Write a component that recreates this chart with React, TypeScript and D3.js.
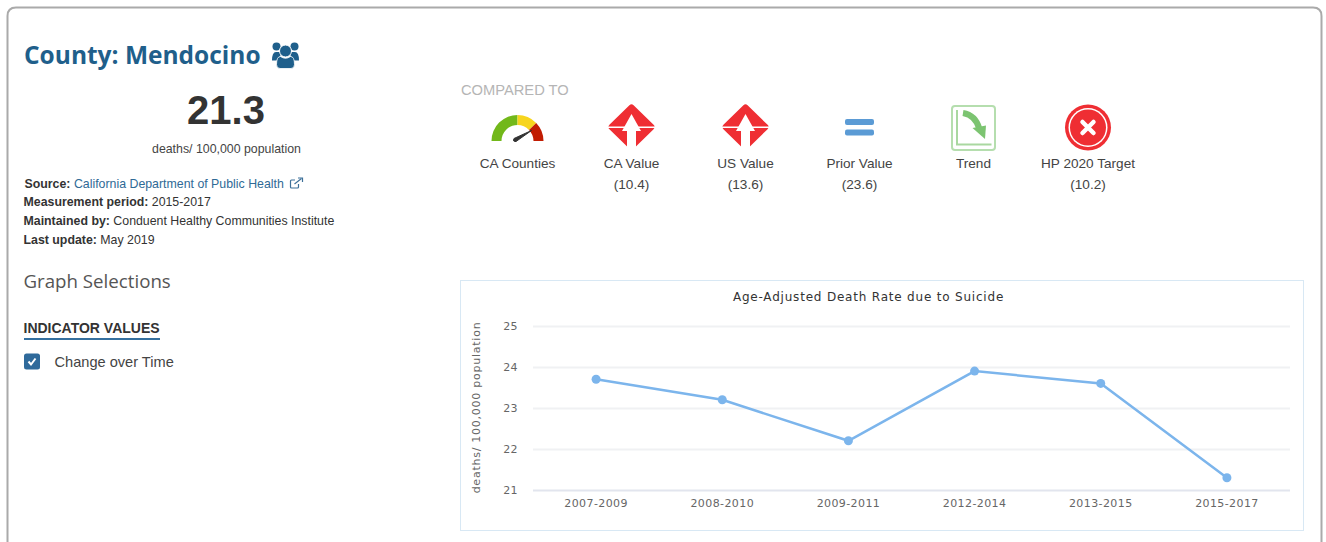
import React, { useEffect, useRef } from "react";
import * as d3 from "d3";

const periods = ["2007-2009", "2008-2010", "2009-2011", "2012-2014", "2013-2015", "2015-2017"];
const rates = [23.7, 23.2, 22.2, 23.9, 23.6, 21.3];
const yTicks = [21, 22, 23, 24, 25];

const comparisons = [
  { label: "CA Counties", value: "", x: 517.5 },
  { label: "CA Value", value: "(10.4)", x: 631.5 },
  { label: "US Value", value: "(13.6)", x: 745.5 },
  { label: "Prior Value", value: "(23.6)", x: 859.5 },
  { label: "Trend", value: "", x: 973.5 },
  { label: "HP 2020 Target", value: "(10.2)", x: 1088 },
];
const sourceLines = [
  { bold: "Measurement period:", text: " 2015-2017", y: 206 },
  { bold: "Maintained by:", text: " Conduent Healthy Communities Institute", y: 225 },
  { bold: "Last update:", text: " May 2019", y: 243.5 },
];
const gaugeSegments = [
  { from: -90, to: 0, color: "#72b81a" },
  { from: 0, to: 46, color: "#f7d51d" },
  { from: 46, to: 90, color: "#c11c02" },
];

const SANS = "'Liberation Sans', Arial, sans-serif";
const CHART_FONT = "'DejaVu Sans', sans-serif";
const BLUE = "#1f5f8b";

const x = d3.scaleBand().domain(periods).range([533, 1290]);
const y = d3.scaleLinear().domain([21, 25]).range([490, 326]);
const px = (d: string) => (x(d) as number) + x.bandwidth() / 2;

const line = d3
  .line<number>()
  .x((d, i) => px(periods[i]))
  .y((d) => y(d));

const Gauge = ({ cx }: { cx: number }) => {
  const arc = d3.arc();
  const rad = Math.PI / 180;
  return (
    <g transform={`translate(${cx},141)`}>
      {gaugeSegments.map((s) => (
        <path
          key={s.color}
          fill={s.color}
          d={
            arc({
              innerRadius: 16,
              outerRadius: 26,
              startAngle: s.from * rad,
              endAngle: s.to * rad,
            }) as string
          }
        />
      ))}
      <path d="M-3.5,-2.5 L14,-10.5 L-1.5,0.5 Q-5,1 -3.5,-2.5 Z" fill="#333" stroke="#333" strokeWidth={1} />
    </g>
  );
};

const Diamond = ({ cx }: { cx: number }) => (
  <g transform={`translate(${cx},127)`}>
    <path
      d="M0,-19.5 L20,0 L0,19.5 L-20,0 Z"
      fill="#ef2e33"
      stroke="#ef2e33"
      strokeWidth={6}
      strokeLinejoin="round"
    />
    <rect x={-24} y={-0.5} width={48} height={1.5} fill="#fff" />
    <path d="M0,-13 L9.5,4 L4.5,4 L4.5,24 L-4.5,24 L-4.5,4 L-9.5,4 Z" fill="#fff" />
  </g>
);

const Equal = ({ cx }: { cx: number }) => (
  <g transform={`translate(${cx},127)`} fill="#5b9bd5">
    <rect x={-14.5} y={-8} width={29} height={6} rx={2} />
    <rect x={-14.5} y={2.5} width={29} height={6} rx={2} />
  </g>
);

const TrendIcon = ({ cx }: { cx: number }) => (
  <g transform={`translate(${cx},128)`}>
    <rect x={-21.5} y={-22} width={43} height={44} rx={3} fill="#fff" stroke="#b5deae" strokeWidth={2} />
    <path d="M-16.5,-18 L-16.5,16.5 L18,16.5" fill="none" stroke="#a9d8a0" strokeWidth={2} />
    <path d="M-10.5,-15 Q2,-13 6,1" fill="none" stroke="#7cc471" strokeWidth={6} />
    <path d="M-1,0 L12.5,-2.5 L11.5,11 Z" fill="#7cc471" />
  </g>
);

const Cross = ({ cx }: { cx: number }) => (
  <g transform={`translate(${cx},127.5)`}>
    <circle r={23} fill="#ef2e33" />
    <circle r={19.5} fill="#fff" />
    <circle r={18} fill="#ef2e33" />
    <path d="M-5.5,-5.5 L5.5,5.5 M5.5,-5.5 L-5.5,5.5" stroke="#fff" strokeWidth={4.5} strokeLinecap="round" />
  </g>
);

const People = () => (
  <g fill={BLUE}>
    <circle cx={276.5} cy={46.5} r={4} />
    <circle cx={294.5} cy={46.5} r={4} />
    <path d="M272,60.5 Q272,52 276,52 L282,52 L278,60.5 Z" />
    <path d="M299,60.5 Q299,52 295,52 L289,52 L293,60.5 Z" />
    <circle cx={285.5} cy={51} r={6} stroke="#fff" strokeWidth={1} />
    <path
      d="M276.5,64.5 Q276.5,56.5 280.5,56.5 Q285.5,60 290.5,56.5 Q294.5,56.5 294.5,64.5 Q294.5,68.5 291,68.5 L280,68.5 Q276.5,68.5 276.5,64.5 Z"
      stroke="#fff"
      strokeWidth={0.8}
    />
  </g>
);

const ExternalLink = () => (
  <g fill="none" stroke="#3d7099" strokeWidth={1.2}>
    <path d="M298.5,184 L298.5,187 Q298.5,188 297.5,188 L291.5,188 Q290.5,188 290.5,187 L290.5,181 Q290.5,180 291.5,180 L295,180" />
    <path d="M294.5,184 L301.5,178.5" />
    <path d="M298,178 L302.5,178 L302.5,182" />
  </g>
);

const App = () => {
  const xAxisRef = useRef<SVGGElement>(null);
  const yAxisRef = useRef<SVGGElement>(null);

  useEffect(() => {
    const xAxis = d3.select(xAxisRef.current as SVGGElement);
    xAxis.call(d3.axisBottom(x).tickSize(0).tickPadding(9));
    xAxis.select(".domain").remove();
    xAxis
      .selectAll("text")
      .attr("fill", "#666")
      .style("font-family", CHART_FONT)
      .style("font-size", "11px")
      .style("letter-spacing", "0.4px");

    const yAxis = d3.select(yAxisRef.current as SVGGElement);
    yAxis.call(
      d3
        .axisLeft(y)
        .tickValues(yTicks)
        .tickFormat(d3.format("d") as any)
        .tickSize(-757)
        .tickPadding(15)
    );
    yAxis.select(".domain").remove();
    yAxis
      .selectAll("line")
      .attr("stroke", (d) => (d === 21 ? "#e2e5ee" : "#f0f1f3"))
      .attr("stroke-width", 2);
    yAxis
      .selectAll("text")
      .attr("fill", "#666")
      .style("font-family", CHART_FONT)
      .style("font-size", "11px")
      .style("letter-spacing", "0.4px");
  }, []);

  return (
    <svg
      width={1326}
      height={542}
      style={{ position: "absolute", left: 0, top: 0, display: "block", background: "#fff" }}
    >
      <path
        d="M7.5,545 L7.5,16 Q7.5,7.5 16,7.5 L1313,7.5 Q1321.5,7.5 1321.5,16 L1321.5,545"
        fill="none"
        stroke="#aaaaaa"
        strokeWidth={2}
      />

      {/* left column */}
      <text x={24} y={64} fontFamily="'Open Sans', sans-serif" fontWeight={700} fontSize={24.5} fill={BLUE}>
        County: Mendocino
      </text>
      <People />
      <text x={226} y={124} textAnchor="middle" fontFamily={SANS} fontWeight={700} fontSize={40} fill="#333">
        21.3
      </text>
      <text x={226.5} y={153} textAnchor="middle" fontFamily={SANS} fontSize={12.35} fill="#444">
        deaths/ 100,000 population
      </text>

      <text x={24.5} y={188} fontFamily={SANS} fontSize={12.35} fill="#333">
        <tspan fontWeight={700}>Source:</tspan>
        <tspan fill="#2f6a96"> California Department of Public Health</tspan>
      </text>
      <ExternalLink />
      {sourceLines.map((l) => (
        <text key={l.bold} x={23.5} y={l.y} fontFamily={SANS} fontSize={12.35} fill="#333">
          <tspan fontWeight={700}>{l.bold}</tspan>
          {l.text}
        </text>
      ))}

      <text x={23.5} y={288} fontFamily="'Open Sans', sans-serif" fontSize={18.7} fill="#555">
        Graph Selections
      </text>
      <text x={23.5} y={333} fontFamily={SANS} fontWeight={700} fontSize={14} fill="#333">
        INDICATOR VALUES
      </text>
      <rect x={24} y={338} width={136} height={2} fill="#35709f" />
      <rect x={24} y={353.5} width={16} height={16} rx={2.5} fill="#2f6a9b" />
      <path d="M28.5,361.5 L31,364.5 L35.5,358.5" fill="none" stroke="#fff" strokeWidth={2} />
      <text x={54.5} y={367} fontFamily={SANS} fontSize={14.6} fill="#444">
        Change over Time
      </text>

      {/* compared to row */}
      <text x={461} y={95} fontFamily={SANS} fontSize={14.7} fill="#b5b5b5">
        COMPARED TO
      </text>
      <Gauge cx={comparisons[0].x} />
      <Diamond cx={comparisons[1].x} />
      <Diamond cx={comparisons[2].x} />
      <Equal cx={comparisons[3].x} />
      <TrendIcon cx={comparisons[4].x} />
      <Cross cx={comparisons[5].x} />
      {comparisons.map((c) => (
        <g key={c.label} fontFamily={SANS} fontSize={13.6} fill="#444" textAnchor="middle">
          <text x={c.x} y={168}>
            {c.label}
          </text>
          {c.value && (
            <text x={c.x} y={189}>
              {c.value}
            </text>
          )}
        </g>
      ))}

      {/* chart */}
      <rect x={460.5} y={280.5} width={843} height={250} fill="#fff" stroke="#d8e8f4" />
      <text
        x={868.5}
        y={301}
        textAnchor="middle"
        fontFamily={CHART_FONT}
        fontSize={12}
        letterSpacing={0.8}
        fill="#333"
      >
        Age-Adjusted Death Rate due to Suicide
      </text>
      <text
        transform="translate(480,407.5) rotate(-90)"
        textAnchor="middle"
        fontFamily={CHART_FONT}
        fontSize={11}
        letterSpacing={0.75}
        fill="#666"
      >
        deaths/ 100,000 population
      </text>
      <g ref={yAxisRef} transform="translate(533,0)" />
      <g ref={xAxisRef} transform="translate(0,490)" />
      <path d={line(rates) as string} fill="none" stroke="#7cb5ec" strokeWidth={2.5} />
      {rates.map((d, i) => (
        <circle key={periods[i]} cx={px(periods[i])} cy={y(d)} r={4.5} fill="#7cb5ec" />
      ))}
    </svg>
  );
};

export default App;
